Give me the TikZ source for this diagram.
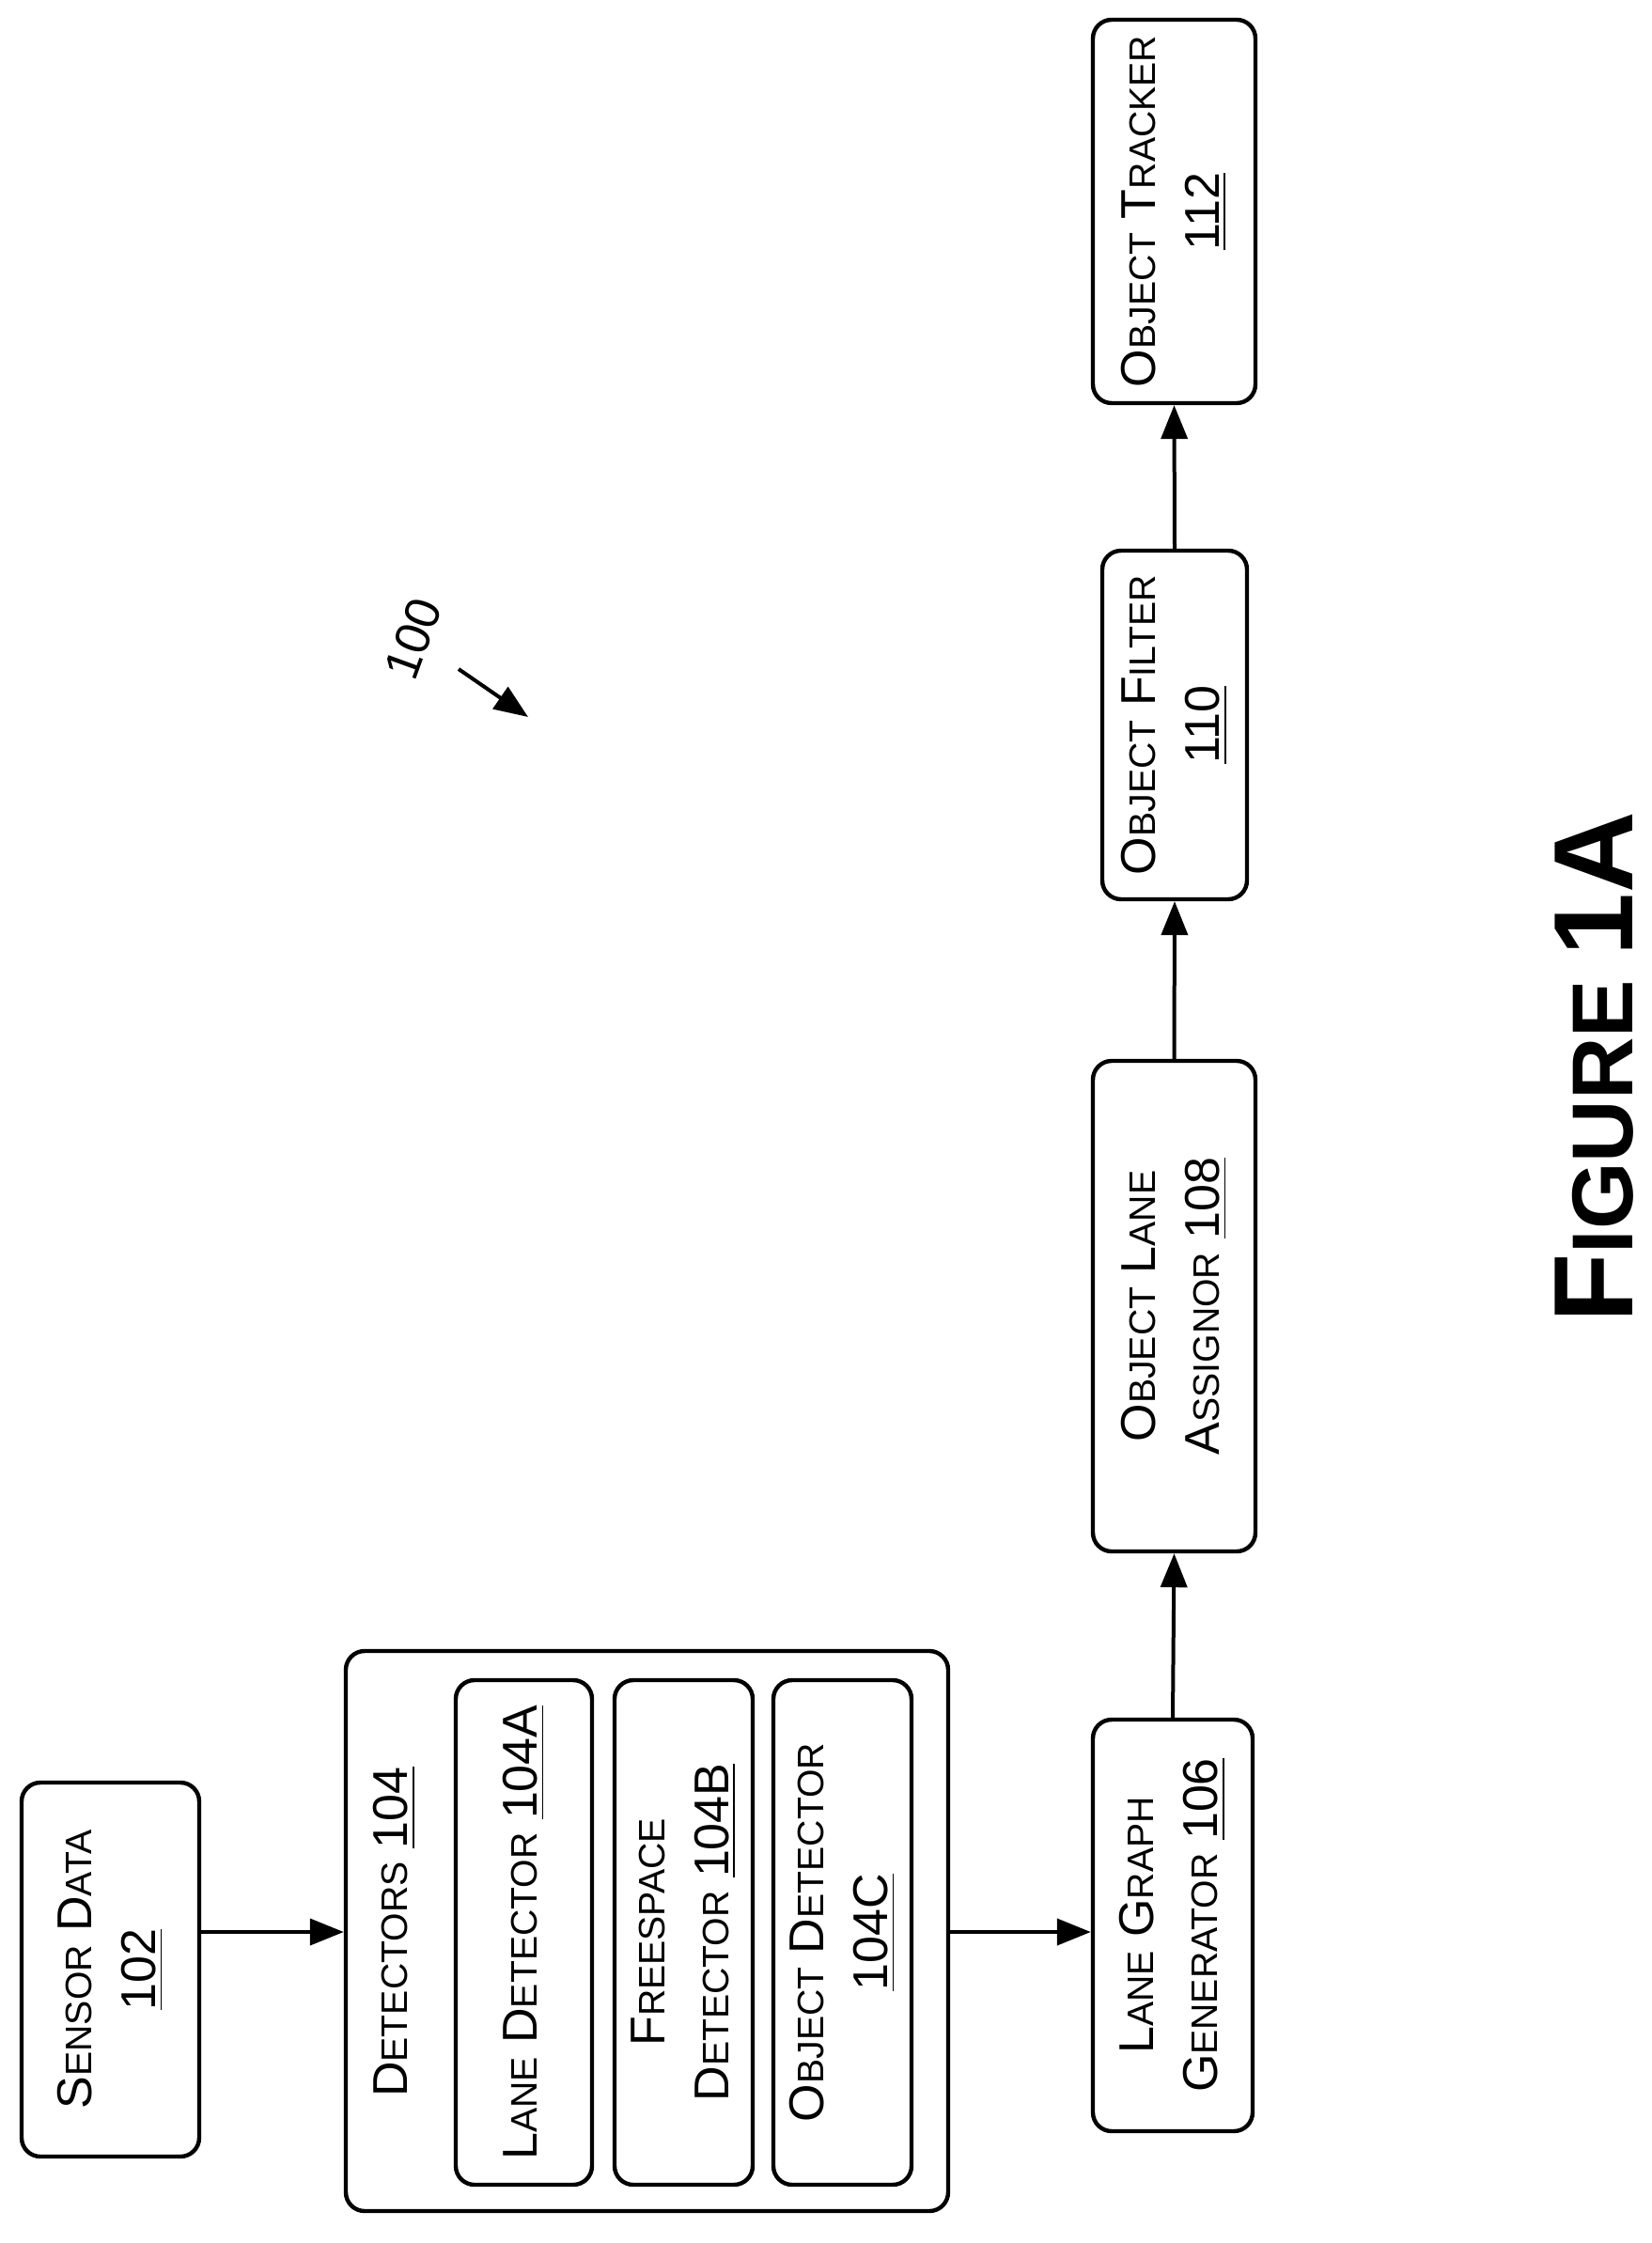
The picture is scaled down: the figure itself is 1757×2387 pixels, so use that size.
\documentclass[tikz,border=0pt]{standalone}
\usepackage{fontspec}
\setmainfont{Liberation Sans}
\usetikzlibrary{arrows.meta}
\newcommand{\sm}[1]{{\fontsize{9.8}{12}\selectfont #1}}
\begin{document}
\begin{tikzpicture}[x=0.25pt,y=-0.25pt,
  box/.style={draw,line width=1.1pt,rounded corners=5pt,inner sep=0pt},
  lbl/.style={rotate=90,align=center,font=\fontsize{13}{17}\selectfont},
  arr/.style={line width=1pt,-{Triangle[length=9pt,width=7pt]}}]
\useasboundingbox (0,0) rectangle (1757,2387);
\newcommand{\bx}[5]{\node[box,minimum width={(#4-#2)*0.25pt},minimum height={(#5-#3)*0.25pt}] (#1) at ({(#2+#4)/2},{(#3+#5)/2}) {};}
\bx{sd}{23}{1897}{212}{2295}
\bx{det}{368}{1757}{1009}{2353}
\bx{la}{485}{1788}{630}{2325}
\bx{fs}{654}{1788}{801}{2325}
\bx{od}{823}{1788}{970}{2325}
\bx{lgg}{1163}{1830}{1333}{2268}
\bx{ola}{1163}{1129}{1336}{1651}
\bx{of}{1173}{586}{1327}{957}
\bx{ot}{1163}{21}{1336}{429}
\node[lbl] (sdt) at (sd) {S\sm{ENSOR} D\sm{ATA}\\\underline{102}};
\node[lbl] (dett) at (420,2056) {D\sm{ETECTORS} \underline{104}};
\node[lbl] (lat) at (la) {L\sm{ANE} D\sm{ETECTOR} \underline{104A}};
\node[lbl] (fst) at (fs) {F\sm{REESPACE}\\D\sm{ETECTOR} \underline{104B}};
\node[lbl] (odt) at (od) {O\sm{BJECT} D\sm{ETECTOR}\\\underline{104C}};
\node[lbl] (lggt) at (lgg) {L\sm{ANE} G\sm{RAPH}\\G\sm{ENERATOR} \underline{106}};
\node[lbl] (olat) at (ola) {O\sm{BJECT} L\sm{ANE}\\A\sm{SSIGNOR} \underline{108}};
\node[lbl] (oft) at (of) {O\sm{BJECT} F\sm{ILTER}\\\underline{110}};
\node[lbl] (ott) at (ot) {O\sm{BJECT} T\sm{RACKER}\\\underline{112}};
\coordinate (a1) at (212,2056);
\draw[arr] (sd.east |- a1) -- (det.west |- a1);
\draw[arr] (det.east |- a1) -- (lgg.west |- a1);
\draw[arr] (lgg.north) -- (ola.south);
\draw[arr] (ola.north) -- (of.south);
\draw[arr] (of.north) -- (ot.south);
\node[rotate=70,font=\fontsize{13}{16}\selectfont,inner sep=1pt] (n100) at (440,680) {100};
\coordinate (s100) at (488,712);
\coordinate (t100) at (562,763);
\draw[arr] (s100) -- (t100);
\node[rotate=90,font=\bfseries\fontsize{30}{34}\selectfont] (fig) at (1697,1136) {F\fontsize{23}{30}\selectfont IGURE \fontsize{30}{34}\selectfont 1A};
\end{tikzpicture}
\end{document}
